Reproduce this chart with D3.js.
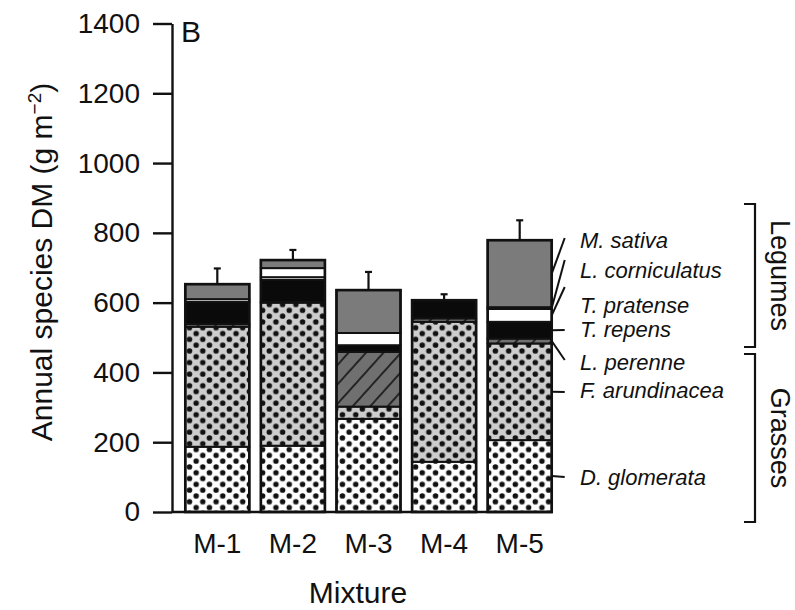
<!DOCTYPE html>
<html>
<head>
<meta charset="utf-8">
<script src="https://cdn.jsdelivr.net/npm/d3@7"></script>
<style>
  body { margin: 0; background: #fff; }
  text { font-family: "Liberation Sans", Arial, sans-serif; fill: #111; }
</style>
</head>
<body>
<script>
// data (g m-2)
var mixtures = ["M-1", "M-2", "M-3", "M-4", "M-5"];
var dGlomerata    = [187, 190, 267, 144, 206];
var fArundinacea  = [344, 410, 35, 401, 277];
var lPerenne      = [8, 2, 157, 10, 14];
var tRepens       = [63, 63, 19, 52, 48];
var tPratense     = [8, 8, 35, 0, 37];
var lCorniculatus = [0, 26, 0, 0, 5];
var mSativa       = [43, 23, 123, 0, 192];
var errUp         = [45, 29, 52, 17, 57];
var yTicks = [0, 200, 400, 600, 800, 1000, 1200, 1400];

// stacking order, bottom to top
var species = ["D. glomerata", "F. arundinacea", "L. perenne", "T. repens",
               "T. pratense", "L. corniculatus", "M. sativa"];
var seriesVals = [dGlomerata, fArundinacea, lPerenne, tRepens, tPratense, lCorniculatus, mSativa];

var table = mixtures.map(function (m, i) {
  var row = { mix: m, err: errUp[i] };
  species.forEach(function (s, k) { row[s] = seriesVals[k][i]; });
  return row;
});

var width = 795, height = 610;

var svg = d3.select("body").append("svg")
  .attr("width", width)
  .attr("height", height);

var defs = svg.append("defs");

// dotted fills
function dots(id, bg) {
  var w = 13.3, h = 11.6;
  var p = defs.append("pattern")
    .attr("id", id)
    .attr("patternUnits", "userSpaceOnUse")
    .attr("width", w)
    .attr("height", h);
  p.append("rect").attr("width", w).attr("height", h).attr("fill", bg);
  p.append("circle").attr("cx", 3.3).attr("cy", 2.9).attr("r", 2.75).attr("fill", "#111");
  p.append("circle").attr("cx", 3.3 + w / 2).attr("cy", 2.9 + h / 2).attr("r", 2.75).attr("fill", "#111");
}
dots("dotWhite", "#ffffff");
dots("dotGrey", "#cdcdcd");

var hatch = defs.append("pattern")
  .attr("id", "hatch")
  .attr("patternUnits", "userSpaceOnUse")
  .attr("width", 13)
  .attr("height", 13)
  .attr("patternTransform", "rotate(42)");
hatch.append("rect").attr("width", 13).attr("height", 13).attr("fill", "#707070");
hatch.append("line").attr("x1", 1).attr("x2", 1).attr("y1", 0).attr("y2", 13)
  .attr("stroke", "#111").attr("stroke-width", 1.6);

var fills = {
  "D. glomerata": "url(#dotWhite)",
  "F. arundinacea": "url(#dotGrey)",
  "L. perenne": "url(#hatch)",
  "T. repens": "#0a0a0a",
  "T. pratense": "#ffffff",
  "L. corniculatus": "#ffffff",
  "M. sativa": "#7b7b7b"
};

var y = d3.scaleLinear().domain([0, 1400]).range([512, 23.5]);
var x = d3.scaleBand().domain(mixtures)
  .range([179.5, 557.5])
  .paddingInner(0.153)
  .paddingOuter(0.0765);

var stacked = d3.stack().keys(species)(table);

// bars
var layer = svg.selectAll("g.layer")
  .data(stacked)
  .enter().append("g")
  .attr("class", "layer")
  .attr("fill", function (d) { return fills[d.key]; });

layer.selectAll("rect")
  .data(function (d) { return d.filter(function (s) { return s[1] - s[0] > 0; }); })
  .enter().append("rect")
  .attr("x", function (d) { return x(d.data.mix); })
  .attr("width", x.bandwidth())
  .attr("y", function (d) { return y(d[1]); })
  .attr("height", function (d) { return y(d[0]) - y(d[1]); })
  .attr("stroke", "#111")
  .attr("stroke-width", 2);

// outline + error bars
var totals = table.map(function (r) {
  return d3.sum(species, function (s) { return r[s]; });
});

svg.selectAll("rect.outline")
  .data(table)
  .enter().append("rect")
  .attr("class", "outline")
  .attr("x", function (d) { return x(d.mix); })
  .attr("width", x.bandwidth())
  .attr("y", function (d, i) { return y(totals[i]); })
  .attr("height", function (d, i) { return y(0) - y(totals[i]); })
  .attr("fill", "none")
  .attr("stroke", "#111")
  .attr("stroke-width", 2.6);

var eb = svg.selectAll("g.err")
  .data(table)
  .enter().append("g")
  .attr("class", "err")
  .attr("stroke", "#111")
  .attr("stroke-width", 2.2);

eb.append("line")
  .attr("x1", function (d) { return x(d.mix) + x.bandwidth() / 2; })
  .attr("x2", function (d) { return x(d.mix) + x.bandwidth() / 2; })
  .attr("y1", function (d, i) { return y(totals[i]); })
  .attr("y2", function (d, i) { return y(totals[i] + d.err); });
eb.append("line")
  .attr("x1", function (d) { return x(d.mix) + x.bandwidth() / 2 - 3.5; })
  .attr("x2", function (d) { return x(d.mix) + x.bandwidth() / 2 + 3.5; })
  .attr("y1", function (d, i) { return y(totals[i] + d.err); })
  .attr("y2", function (d, i) { return y(totals[i] + d.err); });

// y axis
var yAxis = svg.append("g")
  .attr("transform", "translate(172,0)")
  .call(d3.axisLeft(y).tickValues(yTicks).tickFormat(d3.format("d"))
    .tickSize(19).tickSizeOuter(0).tickPadding(13));
yAxis.select(".domain").attr("stroke", "#111").attr("stroke-width", 2.4);
yAxis.selectAll(".tick line").attr("stroke", "#111").attr("stroke-width", 2.4);
yAxis.selectAll(".tick text")
  .style("font-size", "28px")
  .style("font-family", "'Liberation Sans', Arial, sans-serif")
  .attr("fill", "#111");

// x axis: baseline only, plus labels
svg.append("line")
  .attr("x1", 172).attr("x2", x.range()[1] - 5)
  .attr("y1", y(0)).attr("y2", y(0))
  .attr("stroke", "#111").attr("stroke-width", 2.4);

svg.selectAll("text.xlab")
  .data(mixtures)
  .enter().append("text")
  .attr("class", "xlab")
  .attr("x", function (d) { return x(d) + x.bandwidth() / 2; })
  .attr("y", 553)
  .attr("text-anchor", "middle")
  .style("font-size", "28px")
  .text(function (d) { return d; });

svg.append("text")
  .attr("x", 358)
  .attr("y", 603)
  .attr("text-anchor", "middle")
  .style("font-size", "30px")
  .text("Mixture");

var ylab = svg.append("text")
  .attr("transform", "translate(52,262) rotate(-90)")
  .attr("text-anchor", "middle")
  .style("font-size", "30px");
ylab.append("tspan").text("Annual species DM (g m");
ylab.append("tspan").attr("dy", -11).style("font-size", "19px").text("\u22122");
ylab.append("tspan").attr("dy", 11).text(")");

svg.append("text")
  .attr("x", 181)
  .attr("y", 42)
  .style("font-size", "30px")
  .text("B");

// species labels with pointer lines to M-5
var last = stacked.map(function (s) { return s[4]; });
var labelOrder = ["M. sativa", "L. corniculatus", "T. pratense", "T. repens",
                  "L. perenne", "F. arundinacea", "D. glomerata"];
var labelBase = [248, 278, 313, 337, 370, 398, 485];
var lineEnd   = [238, 260, 287, 330, 360, 392, 477];
var barRight = x("M-5") + x.bandwidth();

labelOrder.forEach(function (s, i) {
  var seg = last[species.indexOf(s)];
  svg.append("line")
    .attr("x1", barRight).attr("y1", y((seg[0] + seg[1]) / 2))
    .attr("x2", barRight + 13).attr("y2", lineEnd[i])
    .attr("stroke", "#111").attr("stroke-width", 2);
  svg.append("text")
    .attr("x", 580)
    .attr("y", labelBase[i])
    .style("font-size", "22px")
    .style("font-style", "italic")
    .text(s);
});

// group brackets
var groups = [
  { name: "Legumes", top: 204, bottom: 347 },
  { name: "Grasses", top: 354, bottom: 522 }
];
groups.forEach(function (g) {
  svg.append("path")
    .attr("d", "M744," + g.top + "H755V" + g.bottom + "H744")
    .attr("fill", "none")
    .attr("stroke", "#111")
    .attr("stroke-width", 2.2);
  svg.append("text")
    .attr("transform", "translate(771," + ((g.top + g.bottom) / 2) + ") rotate(90)")
    .attr("text-anchor", "middle")
    .style("font-size", "27px")
    .text(g.name);
});
</script>
</body>
</html>
